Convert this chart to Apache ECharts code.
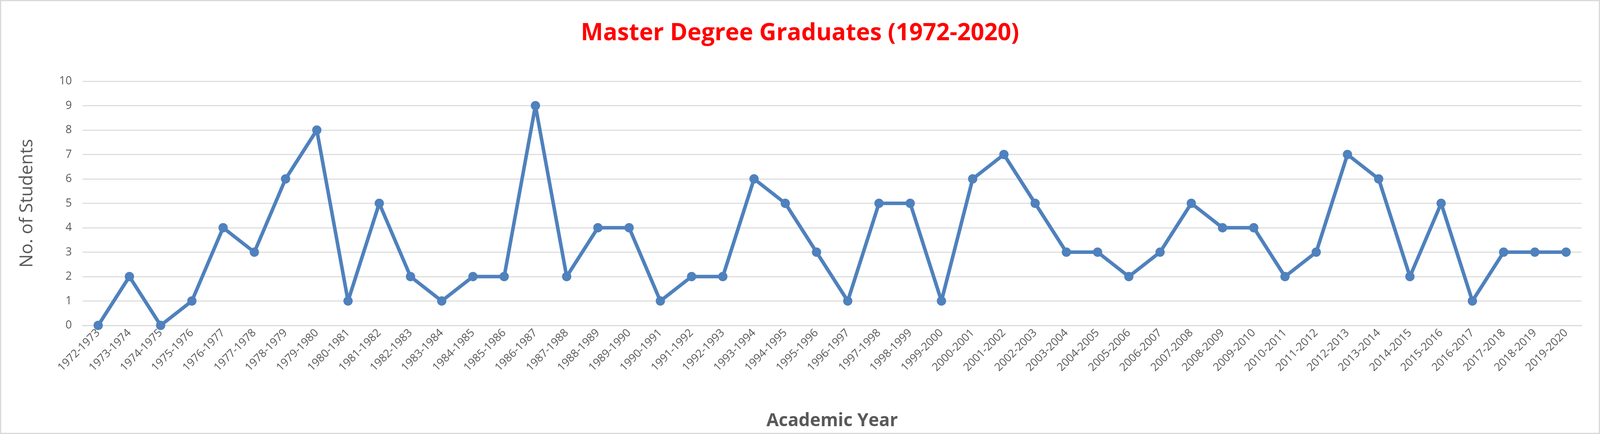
<!DOCTYPE html>
<html><head><meta charset="utf-8">
<script src="https://cdn.jsdelivr.net/npm/echarts@6/dist/echarts.min.js"></script>
<style>html,body{margin:0;padding:0;background:#fff;overflow:hidden}#c{width:100vw;height:100vh;box-sizing:border-box;border:3px solid #d9d9d9}</style>
</head><body><div id="c"></div>
<script>
const categories = [];
for (let y = 1972; y <= 2019; y++) categories.push(y + '-' + (y + 1));
const students = [0,2,0,1,4,3,6,8,1,5,2,1,2,2,9,2,4,4,1,2,2,6,5,3,1,5,5,1,6,7,5,3,3,2,3,5,4,4,2,3,7,6,2,5,1,3,3,3];
const yTicks = {min: 0, max: 10, interval: 1};
const font = '"Open Sans", "Noto Sans", sans-serif';
const W = window.innerWidth, H = window.innerHeight;
const s = Math.min(W / 4482, H / 1111);
const sx = W / 4482, sy = H / 1111;
const chart = echarts.init(document.getElementById('c'));
chart.setOption({
  animation: false,
  title: {text: 'Master Degree Graduates (1972-2020)', left: 'center', top: 48 * sy,
    textStyle: {color: '#ff0000', fontSize: 66 * s, fontWeight: 'bold', fontFamily: font}},
  grid: {left: 228 * sx, right: 48 * sx, top: 205 * sy, bottom: 275 * sy, containLabel: false},
  xAxis: {type: 'category', data: categories, boundaryGap: true,
    name: 'Academic Year', nameLocation: 'middle', nameGap: 222 * sy,
    nameTextStyle: {color: '#595959', fontSize: 50 * s, fontWeight: 'bold', fontFamily: font},
    axisLine: {lineStyle: {color: '#d9d9d9', width: 3 * s}}, axisTick: {show: false},
    axisLabel: {rotate: 45, interval: 0, color: '#595959', fontSize: 31 * s, fontFamily: font, margin: 16 * s}},
  yAxis: {type: 'value', min: yTicks.min, max: yTicks.max, interval: yTicks.interval,
    name: 'No. of Students', nameLocation: 'middle', nameGap: 130 * sx,
    nameTextStyle: {color: '#595959', fontSize: 50 * s, fontFamily: font},
    axisLine: {show: false}, axisTick: {show: false},
    axisLabel: {color: '#595959', fontSize: 31 * s, fontFamily: font, margin: 30 * sx},
    splitLine: {lineStyle: {color: '#d9d9d9', width: 3 * s}}},
  series: [{type: 'line', data: students, symbol: 'circle', symbolSize: 26 * s,
    lineStyle: {color: '#4f81bd', width: 10 * s}, itemStyle: {color: '#4f81bd'}}]
});
</script></body></html>
